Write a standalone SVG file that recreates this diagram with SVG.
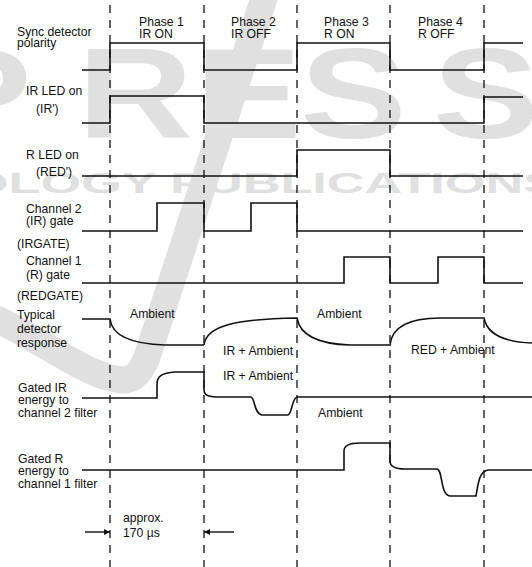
<svg xmlns="http://www.w3.org/2000/svg" width="532" height="567" viewBox="0 0 532 567">
<style>
text{font-family:"Liberation Sans",Arial,sans-serif;font-size:12.2px;fill:#111}
text.wm1{fill:#e0e0e0;font-weight:bold;font-size:128px}
text.wm2{fill:#e0e0e0;font-weight:bold;font-size:29px}
.wave{fill:none;stroke:#111;stroke-width:1.6;stroke-linejoin:miter}
.grid{fill:none;stroke:#111;stroke-width:1.3;stroke-dasharray:8 7}
.arr{fill:none;stroke:#111;stroke-width:1.4}
</style>
<defs>
<marker id="ah" viewBox="0 0 10 10" refX="10" refY="5" markerWidth="9" markerHeight="6" orient="auto" markerUnits="userSpaceOnUse">
<path d="M0 0 L10 5 L0 10 Z" fill="#111"/>
</marker>
</defs>
<rect width="532" height="567" fill="#ffffff"/>
<g id="watermark">
<text class="wm1" transform="scale(1.25 1)" x="-60 62 156 240 346" y="138">PRESS</text>
<text class="wm2" x="-32" y="193" textLength="590" lengthAdjust="spacingAndGlyphs">OLOGY PUBLICATIONS</text>
<path d="M-5 318 C50 345 90 378 122 380 C134 381 140 372 146 360 L265 -5" fill="none" stroke="#e0e0e0" stroke-width="27"/>
</g>
<g id="phase-grid">
<line class="grid" x1="110" y1="5" x2="110" y2="567"/>
<line class="grid" x1="204" y1="5" x2="204" y2="567"/>
<line class="grid" x1="297" y1="5" x2="297" y2="567"/>
<line class="grid" x1="390" y1="5" x2="390" y2="567"/>
<line class="grid" x1="484" y1="5" x2="484" y2="567"/>
</g>
<g id="phase-labels">
<text x="139" y="26">Phase 1</text><text x="139" y="38">IR ON</text>
<text x="231" y="26">Phase 2</text><text x="231" y="38">IR OFF</text>
<text x="324" y="26">Phase 3</text><text x="324" y="38">R ON</text>
<text x="418" y="26">Phase 4</text><text x="418" y="38">R OFF</text>
</g>
<g id="sync">
<text x="17" y="36">Sync detector</text><text x="17" y="47">polarity</text>
<path class="wave" d="M82 70 H110 V43 H204 V70 H297 V43 H390 V70 H484 V43 H523"/>
</g>
<g id="irled">
<text x="26" y="95">IR LED on</text><text x="36" y="113">(IR')</text>
<path class="wave" d="M82 123 H110 V96 H204 V123 H484 V97 H523"/>
</g>
<g id="rled">
<text x="26" y="159">R LED on</text><text x="36" y="176">(RED')</text>
<path class="wave" d="M82 176 H297 V150 H390 V176 H523"/>
</g>
<g id="irgate">
<text x="26" y="213">Channel 2</text><text x="26" y="225">(IR) gate</text><text x="17" y="248">(IRGATE)</text>
<path class="wave" d="M82 231 H157 V203 H204 V231 H251 V203 H297 V231 H523"/>
</g>
<g id="redgate">
<text x="26" y="265">Channel 1</text><text x="26" y="279">(R) gate</text><text x="17" y="300">(REDGATE)</text>
<path class="wave" d="M82 283 H344 V257 H390 V283 H438 V257 H484 V283 H523"/>
</g>
<g id="detector">
<text x="17" y="319">Typical</text><text x="17" y="333">detector</text><text x="17" y="347">response</text>
<path class="wave" d="M82 319 H110 C112 335 130 344 165 345 H204"/>
<path class="wave" d="M204 345 C206 326 235 319 297 318 C300 336 320 344 350 345 H390 C392 326 410 318 440 318 H484 C487 334 505 342 532 343"/>
<text x="130" y="318">Ambient</text>
<text x="317" y="318">Ambient</text>
<text x="223" y="355">IR + Ambient</text>
<text x="411" y="354">RED + Ambient</text>
</g>
<g id="gatedir">
<text x="18" y="392">Gated IR</text><text x="18" y="404">energy to</text><text x="18" y="417">channel 2 filter</text>
<path class="wave" d="M82 398 H157 V384 C157 376 162 373 175 372 H204 V390 C204 396 210 397 220 397 H251 C255 398 254 414 262 415 H288 C292 414 292 398 297 397 H532"/>
<text x="223" y="380">IR + Ambient</text>
<text x="318" y="417">Ambient</text>
</g>
<g id="gatedr">
<text x="18" y="463">Gated R</text><text x="18" y="475">energy to</text><text x="18" y="488">channel 1 filter</text>
<path class="wave" d="M82 470 H344 V451 C344 445 350 443 360 443 H390 V461 C390 467 396 469 405 469 H437 C443 470 440 495 450 496 H476 C478 485 479 471 488 470 H532"/>
</g>
<g id="connectors">
<line class="arr" x1="85" y1="532" x2="110" y2="532" marker-end="url(#ah)"/>
<line class="arr" x1="234" y1="532" x2="204" y2="532" marker-end="url(#ah)"/>
<text x="123" y="522">approx.</text>
<text x="123" y="537">170 µs</text>
</g>
</svg>
